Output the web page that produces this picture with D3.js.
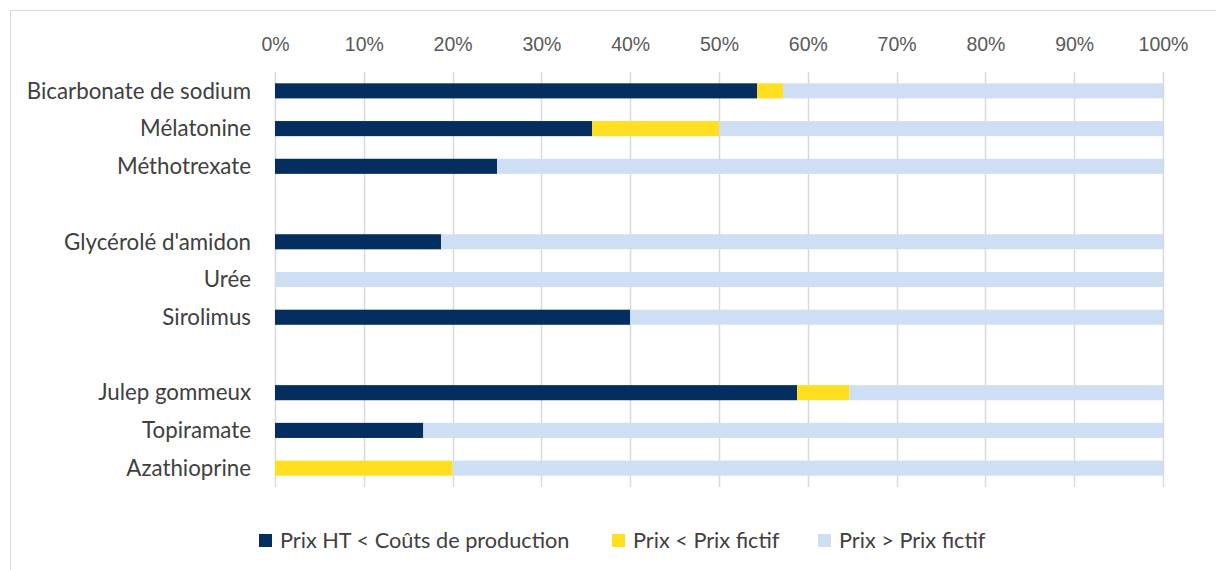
<!DOCTYPE html>
<html>
<head>
<meta charset="utf-8">
<script src="https://cdn.jsdelivr.net/npm/d3@7"></script>
<style>
  body { margin: 0; background: #fff; }
  svg { display: block; font-family: "Lato", "Liberation Sans", sans-serif; }
</style>
</head>
<body>
<svg id="chart" width="1216" height="570"></svg>
<script>
// Données (en %)
const categories = ["Bicarbonate de sodium", "Mélatonine", "Méthotrexate", "",
  "Glycérolé d'amidon", "Urée", "Sirolimus", " ",
  "Julep gommeux", "Topiramate", "Azathioprine"];
const coutsProd  = [54.3, 35.7, 25, null, 18.7, 0, 40, null, 58.8, 16.7, 0];
const sousFictif = [2.9, 14.3, 0, null, 0, 0, 0, null, 5.9, 0, 20];
const seriesNames = ["Prix HT < Coûts de production", "Prix < Prix fictif", "Prix > Prix fictif"];
const colors = ["#032e5f", "#ffdf1f", "#cfdff3"];
const ticks = [0, 10, 20, 30, 40, 50, 60, 70, 80, 90, 100];

const svg = d3.select("#chart");

// Cadre du graphique
svg.append("rect")
  .attr("x", 10.5).attr("y", 10.5)
  .attr("width", 1220).attr("height", 600)
  .attr("fill", "none").attr("stroke", "#d9d9d9");

const x = d3.scaleLinear().domain([0, 100]).range([275, 1163]);
const y = d3.scaleBand().domain(categories).range([72, 487]).paddingInner(0.6).paddingOuter(0.3);

// Grille verticale
svg.append("g").selectAll("line").data(ticks).join("line")
  .attr("x1", d => Math.round(x(d)) + 0.5).attr("x2", d => Math.round(x(d)) + 0.5)
  .attr("y1", 72).attr("y2", 487)
  .attr("stroke", "#d9d9d9").attr("stroke-width", 1.5);

// Axe du haut
const xAxis = svg.append("g")
  .attr("transform", "translate(0,51)")
  .call(d3.axisTop(x).tickValues(ticks).tickFormat(d => d + "%").tickSize(0).tickPadding(0));
xAxis.select(".domain").remove();
xAxis.selectAll("text").attr("fill", "#595959").attr("font-size", 19.5);

// Empilement
const rows = categories.map((c, i) => ({
  cat: c,
  vals: coutsProd[i] === null ? null : [coutsProd[i], sousFictif[i], 100 - coutsProd[i] - sousFictif[i]]
})).filter(r => r.vals);

rows.forEach(r => {
  let acc = 0;
  r.vals.forEach((v, k) => {
    if (v > 0) {
      svg.append("rect")
        .attr("x", x(acc)).attr("width", x(acc + v) - x(acc))
        .attr("y", y(r.cat)).attr("height", y.bandwidth())
        .attr("fill", colors[k]);
    }
    acc += v;
  });
});

// Libellés des catégories
svg.append("g").selectAll("text").data(rows).join("text")
  .attr("x", 251).attr("y", d => y(d.cat) + y.bandwidth() / 2)
  .attr("dy", "0.35em").attr("text-anchor", "end")
  .attr("fill", "#404040").attr("font-size", 22.3)
  .text(d => d.cat);

// Légende
const legX = [259, 612, 818];
const leg = svg.append("g").selectAll("g").data(seriesNames).join("g")
  .attr("transform", (d, i) => `translate(${legX[i]},540)`);
leg.append("rect").attr("x", 0).attr("y", -6).attr("width", 13).attr("height", 13)
  .attr("fill", (d, i) => colors[i]);
leg.append("text").attr("x", 21).attr("y", 0).attr("dy", "0.35em")
  .attr("fill", "#404040").attr("font-size", 21.7).text(d => d);
</script>
</body>
</html>
